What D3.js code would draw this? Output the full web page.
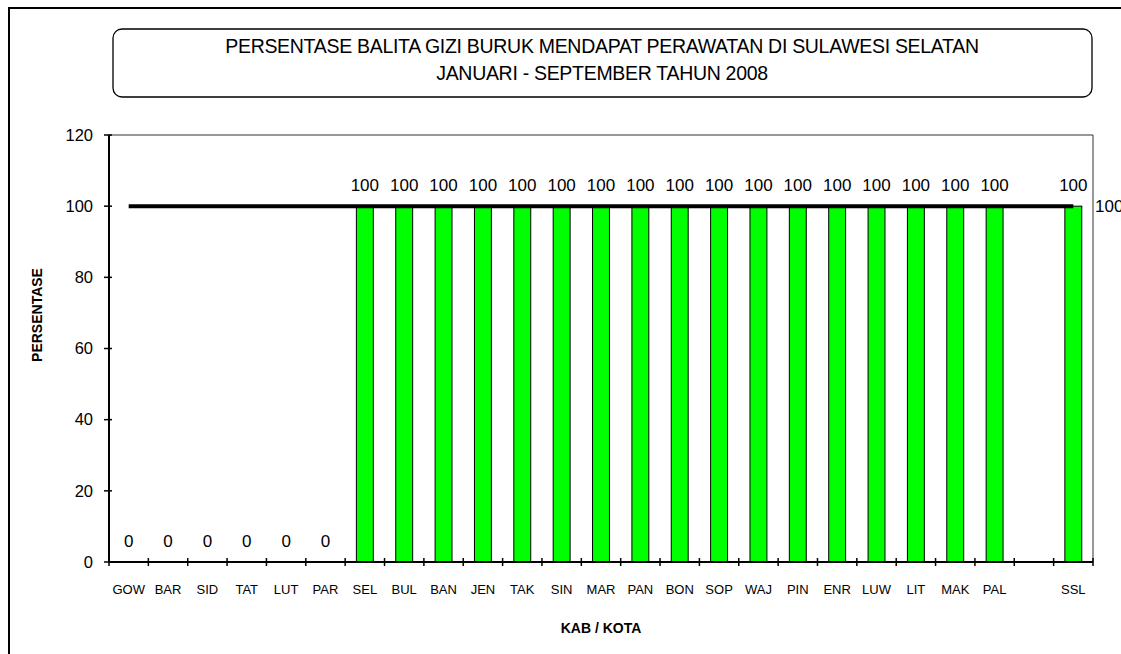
<!DOCTYPE html>
<html>
<head>
<meta charset="utf-8">
<script src="https://cdn.jsdelivr.net/npm/d3@7"></script>
<style>
  body { margin: 0; background: #fff; }
  svg { display: block; font-family: "Liberation Sans", Arial, sans-serif; }
</style>
</head>
<body>
<div id="chart"></div>
<script>
const kabKota = ["GOW", "BAR", "SID", "TAT", "LUT", "PAR", "SEL", "BUL", "BAN", "JEN", "TAK", "SIN",
  "MAR", "PAN", "BON", "SOP", "WAJ", "PIN", "ENR", "LUW", "LIT", "MAK", "PAL", "", "SSL"];
const persentase = [0, 0, 0, 0, 0, 0, 100, 100, 100, 100, 100, 100,
  100, 100, 100, 100, 100, 100, 100, 100, 100, 100, 100, null, 100];
const target = [100, 100, 100, 100, 100, 100, 100, 100, 100, 100, 100, 100,
  100, 100, 100, 100, 100, 100, 100, 100, 100, 100, 100, 100, 100];
const yTicks = [0, 20, 40, 60, 80, 100, 120];
const titleLines = ["PERSENTASE BALITA GIZI BURUK MENDAPAT PERAWATAN DI SULAWESI SELATAN",
  "JANUARI - SEPTEMBER TAHUN 2008"];

const width = 1121, height = 654;
const margin = {top: 135, right: 28, bottom: 92, left: 109};
const plotW = width - margin.left - margin.right;
const plotH = height - margin.top - margin.bottom;

const svg = d3.select("#chart").append("svg")
    .attr("width", width)
    .attr("height", height);

// outer frame (runs off the right and bottom edges)
svg.append("rect")
    .attr("x", 9).attr("y", 8)
    .attr("width", 1130).attr("height", 660)
    .attr("fill", "none")
    .attr("stroke", "#000")
    .attr("stroke-width", 2);

// title box
svg.append("rect")
    .attr("x", 113).attr("y", 29)
    .attr("width", 979).attr("height", 68)
    .attr("rx", 9)
    .attr("fill", "#fff")
    .attr("stroke", "#000")
    .attr("stroke-width", 1.3);

svg.selectAll("text.title")
    .data(titleLines)
    .join("text")
    .attr("class", "title")
    .attr("x", 602)
    .attr("y", (d, i) => 53 + i * 27)
    .attr("text-anchor", "middle")
    .attr("font-size", 19.5)
    .attr("letter-spacing", -0.3)
    .text(d => d);

const x = d3.scaleBand()
    .domain(d3.range(kabKota.length))
    .range([0, plotW])
    .padding(0);

const y = d3.scaleLinear()
    .domain([0, 120])
    .range([plotH, 0]);

const g = svg.append("g")
    .attr("transform", `translate(${margin.left},${margin.top})`);

// top and right border of the plot area
g.append("path")
    .attr("d", `M0,0H${plotW}V${plotH}`)
    .attr("fill", "none")
    .attr("stroke", "#333")
    .attr("stroke-width", 1);

const barW = x.bandwidth() * 0.43;
const bars = persentase.map((v, i) => ({i, v})).filter(d => d.v != null);

g.selectAll("rect.bar")
    .data(bars)
    .join("rect")
    .attr("class", "bar")
    .attr("x", d => x(d.i) + (x.bandwidth() - barW) / 2)
    .attr("y", d => y(d.v))
    .attr("width", barW)
    .attr("height", d => y(0) - y(d.v))
    .attr("fill", "#00ff00")
    .attr("stroke", "#000")
    .attr("stroke-width", 1);

g.selectAll("text.lbl")
    .data(bars)
    .join("text")
    .attr("class", "lbl")
    .attr("x", d => x(d.i) + x.bandwidth() / 2)
    .attr("y", d => y(d.v) - 15)
    .attr("text-anchor", "middle")
    .attr("font-size", 17)
    .text(d => d.v);

// target line
const line = d3.line()
    .x((d, i) => x(i) + x.bandwidth() / 2)
    .y(d => y(d));

g.append("path")
    .attr("d", line(target))
    .attr("fill", "none")
    .attr("stroke", "#000")
    .attr("stroke-width", 4);

g.append("text")
    .attr("x", plotW + 2)
    .attr("y", y(target[target.length - 1]))
    .attr("dy", "0.35em")
    .attr("font-size", 17)
    .text(target[target.length - 1]);

// axes
const yAxis = g.append("g")
    .call(d3.axisLeft(y).tickValues(yTicks).tickSize(0).tickPadding(16));
yAxis.select(".domain").remove();
yAxis.selectAll("text").attr("font-size", 16.5).attr("font-family", null).attr("fill", "#000");

g.selectAll("line.ytick")
    .data(yTicks)
    .join("line")
    .attr("class", "ytick")
    .attr("x1", -5).attr("x2", 3)
    .attr("y1", d => y(d)).attr("y2", d => y(d))
    .attr("stroke", "#000")
    .attr("stroke-width", 1.5);

g.append("line")
    .attr("x1", 0).attr("x2", 0)
    .attr("y1", 0).attr("y2", plotH)
    .attr("stroke", "#000")
    .attr("stroke-width", 2);

g.append("line")
    .attr("x1", 0).attr("x2", plotW)
    .attr("y1", plotH).attr("y2", plotH)
    .attr("stroke", "#000")
    .attr("stroke-width", 2);

const xEdges = d3.range(kabKota.length + 1).map(i => i * x.step());
g.selectAll("line.xtick")
    .data(xEdges)
    .join("line")
    .attr("class", "xtick")
    .attr("x1", d => d).attr("x2", d => d)
    .attr("y1", plotH - 4).attr("y2", plotH + 4)
    .attr("stroke", "#000")
    .attr("stroke-width", 1.5);

g.selectAll("text.xl")
    .data(kabKota)
    .join("text")
    .attr("class", "xl")
    .attr("x", (d, i) => x(i) + x.bandwidth() / 2)
    .attr("y", plotH + 32)
    .attr("text-anchor", "middle")
    .attr("font-size", 13)
    .text(d => d);

// axis titles
svg.append("text")
    .attr("x", margin.left + plotW / 2)
    .attr("y", 633)
    .attr("text-anchor", "middle")
    .attr("font-size", 14)
    .attr("font-weight", "bold")
    .text("KAB / KOTA");

svg.append("text")
    .attr("transform", "translate(42,315) rotate(-90)")
    .attr("text-anchor", "middle")
    .attr("font-size", 14)
    .attr("font-weight", "bold")
    .text("PERSENTASE");
</script>
</body>
</html>
